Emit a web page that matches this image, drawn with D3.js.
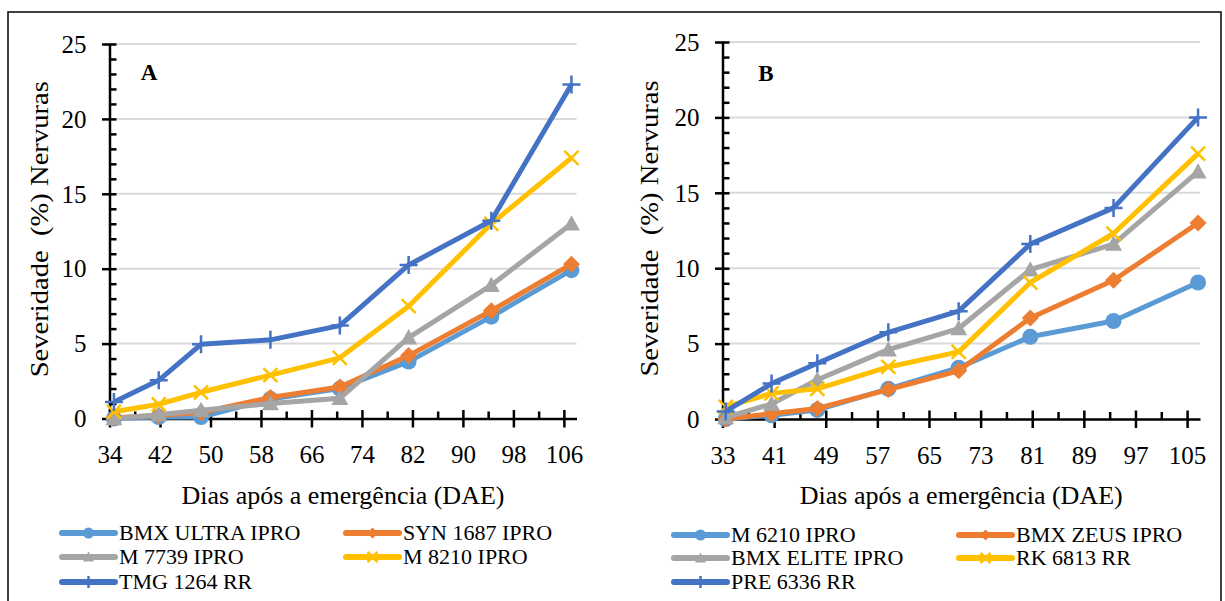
<!DOCTYPE html>
<html>
<head>
<meta charset="utf-8">
<script src="https://cdn.jsdelivr.net/npm/d3@7"></script>
<style>
  body { margin: 0; background: #fff; }
  svg { display: block; }
</style>
</head>
<body>
<div id="chart"></div>
<script>
// days after emergence where each panel was sampled
let daysA = [34.7, 41.8, 48.5, 59.5, 70.5, 81.4, 94.5, 107.2]
let daysB = [33.5, 40.6, 47.7, 58.7, 69.6, 80.7, 93.6, 106.7]

let xTicksA = [34, 42, 50, 58, 66, 74, 82, 90, 98, 106]
let xTicksB = [33, 41, 49, 57, 65, 73, 81, 89, 97, 105]
let yTicks = [0, 5, 10, 15, 20, 25]

let namesA = ["BMX ULTRA IPRO", "SYN 1687 IPRO", "M 7739 IPRO", "M 8210 IPRO", "TMG 1264 RR"]
let namesB = ["M 6210 IPRO", "BMX ZEUS IPRO", "BMX ELITE IPRO", "RK 6813 RR", "PRE 6336 RR"]

let valuesA = [
    [0, 0.1, 0.1, 1.3, 2.0, 3.8, 6.8, 9.9],
    [0.05, 0.2, 0.4, 1.4, 2.1, 4.2, 7.2, 10.3],
    [0, 0.25, 0.55, 1.0, 1.35, 5.4, 8.9, 13.0],
    [0.45, 0.95, 1.75, 2.9, 4.05, 7.5, 13.0, 17.4],
    [1.1, 2.55, 4.95, 5.25, 6.2, 10.25, 13.2, 22.3]
]
let valuesB = [
    [0, 0.25, 0.6, 2.0, 3.4, 5.45, 6.5, 9.05],
    [0, 0.35, 0.7, 1.95, 3.2, 6.7, 9.2, 13.0],
    [0.1, 1.0, 2.6, 4.6, 6.0, 9.9, 11.6, 16.4],
    [0.8, 1.7, 2.0, 3.45, 4.45, 9.05, 12.3, 17.6],
    [0.5, 2.35, 3.7, 5.75, 7.15, 11.6, 14.0, 20.0]
]

let colors = ["#5B9BD5", "#ED7D31", "#A5A5A5", "#FFC000", "#4472C4"]
let markers = ["circle", "diamond", "triangle", "x", "plus"]
let serif = '"Liberation Serif", "Times New Roman", serif'

var svg = d3.select("#chart").append("svg")
    .attr("width", 1225)
    .attr("height", 601)
    .style("font-family", serif)

svg.append("rect")
    .attr("x", 8).attr("y", 12)
    .attr("width", 1213).attr("height", 600)
    .attr("fill", "none")
    .attr("stroke", "#000")
    .attr("stroke-width", 1.5)

function markerPath(type, s) {
    if (type == "circle") return d3.symbol(d3.symbolCircle, Math.PI * s * s)()
    if (type == "diamond") return `M0,${-s}L${s},0L0,${s}L${-s},0Z`
    if (type == "triangle") return `M0,${-s}L${s},${s * 0.8}L${-s},${s * 0.8}Z`
    if (type == "x") return `M${-s},${-s}L${s},${s}M${-s},${s}L${s},${-s}`
    return `M${-s},0L${s},0M0,${-s}L0,${s}`
}
let markerSize = {circle: 8, diamond: 8.5, triangle: 8.5, x: 7, plus: 9}
let legendSize = {circle: 5.5, diamond: 5.5, triangle: 5.5, x: 5, plus: 6}

function drawMarker(g, type, s, color) {
    let p = g.append("path").attr("d", markerPath(type, s))
    if (type == "x" || type == "plus") {
        p.attr("fill", "none").attr("stroke", color).attr("stroke-width", 2.5)
    } else {
        p.attr("fill", color)
    }
}

function drawPanel(cfg) {
    var x = d3.scaleLinear().domain([cfg.xmin, cfg.xmax]).range([cfg.left, cfg.right])
    var y = d3.scaleLinear().domain([0, 25]).range([cfg.bottom, cfg.top])
    var g = svg.append("g")

    // gridlines
    g.selectAll(".grid")
        .data(yTicks.slice(1))
        .enter().append("line")
        .attr("x1", cfg.left).attr("x2", cfg.right)
        .attr("y1", d => y(d)).attr("y2", d => y(d))
        .attr("stroke", "#d9d9d9").attr("stroke-width", 2)

    // minor ticks
    let minorX = cfg.xTicks.slice(0, -1).map(d => d + 4)
    let minorY = d3.range(1, 25).filter(d => d % 5 != 0)
    g.append("g")
        .attr("transform", `translate(0,${cfg.bottom})`)
        .call(d3.axisBottom(x).tickValues(minorX).tickSize(-7).tickFormat(""))
        .call(a => a.select(".domain").remove())
        .selectAll("line").attr("stroke-width", 2.5)
    g.append("g")
        .attr("transform", `translate(${cfg.left},0)`)
        .call(d3.axisLeft(y).tickValues(minorY).tickSize(-7).tickFormat(""))
        .call(a => a.select(".domain").remove())
        .selectAll("line").attr("stroke-width", 2.5)

    // major axes
    let xAxis = g.append("g")
        .attr("transform", `translate(0,${cfg.bottom})`)
        .call(d3.axisBottom(x).tickValues(cfg.xTicks).tickSizeOuter(0))
    xAxis.attr("font-family", null)
    xAxis.select(".domain").attr("stroke-width", 2.5)
    xAxis.selectAll(".tick line").attr("y1", -8.5).attr("y2", 9).attr("stroke-width", 2.5)
    xAxis.selectAll(".tick text")
        .attr("y", 44.5).attr("dy", 0)
        .style("font-family", serif).style("font-size", "25px")

    let yAxis = g.append("g")
        .attr("transform", `translate(${cfg.left},0)`)
        .call(d3.axisLeft(y).tickValues(yTicks).tickSizeOuter(0))
    yAxis.attr("font-family", null)
    yAxis.select(".domain").attr("stroke-width", 2.5)
    yAxis.selectAll(".tick line").attr("x1", -7.5).attr("x2", 7).attr("stroke-width", 2.5)
    yAxis.selectAll(".tick text")
        .attr("x", -23).attr("dy", "0.33em")
        .style("font-family", serif).style("font-size", "25px")

    // series, first one at the back
    cfg.values.forEach(function(vals, i) {
        let pts = vals.map((v, j) => ({day: cfg.days[j], value: v}))
        g.append("path")
            .attr("fill", "none")
            .attr("stroke", colors[i])
            .attr("stroke-width", 5)
            .attr("stroke-linejoin", "round")
            .attr("d", d3.line().x(d => x(d.day)).y(d => y(d.value))(pts))
        pts.forEach(function(p) {
            let m = g.append("g").attr("transform", `translate(${x(p.day)},${y(p.value)})`)
            drawMarker(m, markers[i], markerSize[markers[i]], colors[i])
        })
    })

    // panel letter
    g.append("text")
        .attr("x", cfg.letterX).attr("y", cfg.letterY)
        .attr("text-anchor", "middle")
        .style("font-family", serif)
        .style("font-size", "23px").style("font-weight", "bold")
        .text(cfg.letter)

    // axis titles
    g.append("text")
        .attr("x", (cfg.left + cfg.right) / 2).attr("y", cfg.bottom + 85)
        .attr("text-anchor", "middle")
        .style("font-family", serif)
        .style("font-size", "26px")
        .text("Dias após a emergência (DAE)")
    g.append("text")
        .attr("transform", `translate(${cfg.titleX},${(cfg.top + cfg.bottom) / 2 - 2}) scale(1,1.1) rotate(-90)`)
        .attr("text-anchor", "middle")
        .style("font-family", serif)
        .style("font-size", "26px")
        .style("white-space", "pre")
        .text("Severidade  (%) Nervuras")

    // legend
    cfg.names.forEach(function(name, i) {
        let lx = cfg.legendX[i % 2]
        let ly = cfg.legendY[Math.floor(i / 2)]
        let item = g.append("g").attr("transform", `translate(${lx},${ly})`)
        item.append("line")
            .attr("x1", 0).attr("x2", 53)
            .attr("stroke", colors[i]).attr("stroke-width", 6)
            .attr("stroke-linecap", "round")
        let m = item.append("g").attr("transform", "translate(26.5,0)")
        drawMarker(m, markers[i], legendSize[markers[i]], colors[i])
        item.append("text")
            .attr("x", 57).attr("dy", "0.33em")
            .style("font-family", serif)
            .style("font-size", "22px")
            .text(name)
    })
}

drawPanel({
    left: 109.5, right: 576.5, top: 44, bottom: 418.5,
    xmin: 34, xmax: 108, xTicks: xTicksA, days: daysA,
    values: valuesA, names: namesA, letter: "A", letterX: 149, letterY: 80,
    titleX: 48, legendX: [62, 346], legendY: [533, 557, 582]
})
drawPanel({
    left: 722.5, right: 1200, top: 42, bottom: 419,
    xmin: 33, xmax: 107, xTicks: xTicksB, days: daysB,
    values: valuesB, names: namesB, letter: "B", letterX: 766, letterY: 81,
    titleX: 658, legendX: [674, 959], legendY: [535, 558, 582]
})
</script>
</body>
</html>
